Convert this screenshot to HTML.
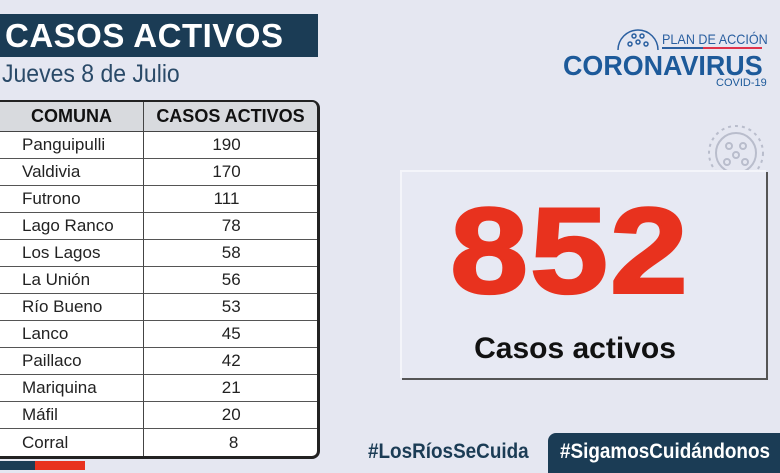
<!DOCTYPE html>
<html><head><meta charset="utf-8"><style>
*{margin:0;padding:0;box-sizing:border-box}
body{width:780px;height:470px;overflow:hidden;background:#e5e7f1;font-family:"Liberation Sans",sans-serif;position:relative}
.a{position:absolute;white-space:nowrap}
.title{left:0;top:14px;width:318px;height:43px;background:#1b3c55;color:#fff;font-weight:bold;font-size:33px;letter-spacing:0.5px;padding-left:5px;line-height:43px}
.sub{left:2px;top:60px;font-size:25px;color:#2a4a68;transform:scaleX(.92);transform-origin:left}
table{position:absolute;left:-2px;top:100px;width:322px;height:358px;border-collapse:separate;border-spacing:0;border:2px solid #222;border-right-width:3px;border-bottom-width:3px;border-radius:0 8px 8px 0;overflow:hidden;background:#fff}
td,th{border-bottom:1px solid #555;height:27px;font-size:17px;color:#222}
th{background:#d8dade;font-size:18px;font-weight:bold;color:#111;height:30px;border-bottom:1.5px solid #444}
td:first-child,th:first-child{border-right:1.5px solid #444;width:144px}
td:first-child{padding-left:22px}
td:last-child{text-align:center;padding-right:8px}
tr:last-child td{border-bottom:none}
.box{left:400px;top:170px;width:366px;height:208px;background:#e7e9f3;border-top:2px solid #f4f5fa;border-left:2px solid #f4f5fa;box-shadow:2px 2px 0 #555}
.big{left:387px;width:366px;top:190px;text-align:center;color:#e8321e;font-weight:900;font-size:140px;line-height:140px;letter-spacing:2px;transform:scaleY(.87);transform-origin:top;-webkit-text-stroke:3px #e8321e}
.ca{left:392px;width:366px;top:332px;text-align:center;font-weight:bold;font-size:30px;color:#111}
</style></head><body>
<div class="a title">CASOS ACTIVOS</div>
<div class="a sub">Jueves 8 de Julio</div>
<table>
<tr><th>COMUNA</th><th>CASOS ACTIVOS</th></tr>
<tr><td>Panguipulli</td><td>190</td></tr>
<tr><td>Valdivia</td><td>170</td></tr>
<tr><td>Futrono</td><td>111</td></tr>
<tr><td>Lago Ranco</td><td>&nbsp;&nbsp;78</td></tr>
<tr><td>Los Lagos</td><td>&nbsp;&nbsp;58</td></tr>
<tr><td>La Unión</td><td>&nbsp;&nbsp;56</td></tr>
<tr><td>Río Bueno</td><td>&nbsp;&nbsp;53</td></tr>
<tr><td>Lanco</td><td>&nbsp;&nbsp;45</td></tr>
<tr><td>Paillaco</td><td>&nbsp;&nbsp;42</td></tr>
<tr><td>Mariquina</td><td>&nbsp;&nbsp;21</td></tr>
<tr><td>Máfil</td><td>&nbsp;&nbsp;20</td></tr>
<tr><td>Corral</td><td>&nbsp;&nbsp;&nbsp;8</td></tr>
</table>
<div class="a" style="left:0;top:461px;width:35px;height:9px;background:#1b3c55"></div>
<div class="a" style="left:35px;top:461px;width:50px;height:9px;background:#e8321e"></div>
<svg class="a" style="left:614px;top:24px" width="48" height="28" viewBox="0 0 48 28"><g fill="none" stroke="#2a5fa0" stroke-width="1.5"><path d="M4 26 A20 20 0 0 1 44 26"/><circle cx="16" cy="20" r="2"/><circle cx="24" cy="18" r="2"/><circle cx="32" cy="20" r="2"/><circle cx="20" cy="12" r="2"/><circle cx="28" cy="12" r="2"/></g></svg>
<svg class="a" style="left:705px;top:122px" width="62" height="52" viewBox="0 0 62 52"><g fill="none" stroke="#b9bdcc" stroke-width="2"><circle cx="31" cy="31" r="20"/><circle cx="31" cy="31" r="27" stroke-dasharray="3 4"/><circle cx="24" cy="24" r="3"/><circle cx="38" cy="24" r="3"/><circle cx="31" cy="33" r="3"/><circle cx="22" cy="40" r="3"/><circle cx="40" cy="40" r="3"/></g></svg>
<div class="a" style="left:662px;top:31px;font-size:14px;color:#2a5fa0;transform:scaleX(.9);transform-origin:left">PLAN DE ACCIÓN</div>
<div class="a" style="left:662px;top:47px;width:41px;height:2px;background:#2a5fa0"></div>
<div class="a" style="left:703px;top:47px;width:59px;height:2px;background:#e0334a"></div>
<div class="a" style="left:563px;top:50px;font-size:28px;font-weight:bold;color:#1d5a9a;transform:scaleX(.96);transform-origin:left">CORONAVIRUS</div>
<div class="a" style="left:716px;top:77px;font-size:11px;color:#1d5a9a">COVID-19</div>
<div class="a box"></div>
<div class="a big">852</div>
<div class="a ca">Casos activos</div>
<div class="a" style="left:368px;top:440px;font-size:21px;font-weight:bold;color:#1b3c55;transform:scaleX(.9);transform-origin:left">#LosRíosSeCuida</div>
<div class="a" style="left:548px;top:433px;width:240px;height:40px;background:#1b3c55;border-radius:8px 0 0 0"></div>
<div class="a" style="left:560px;top:440px;font-size:21px;font-weight:bold;color:#fff;transform:scaleX(.9);transform-origin:left">#SigamosCuidándonos</div>
</body></html>
